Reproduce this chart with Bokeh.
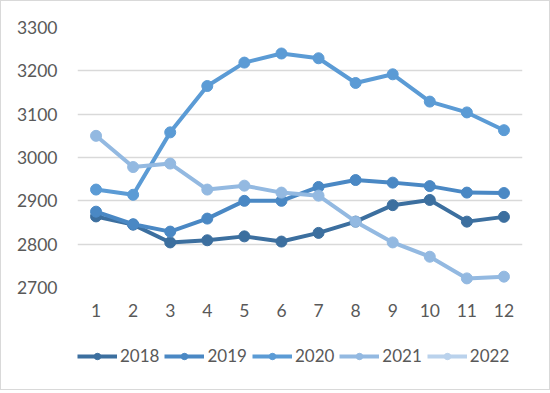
from bokeh.plotting import figure
from bokeh.layouts import column
from bokeh.models import Range1d, FixedTicker, Legend, LegendItem, ColumnDataSource
from bokeh.embed import file_html
from bokeh.resources import INLINE

months = [1, 2, 3, 4, 5, 6, 7, 8, 9, 10, 11, 12]
y2018 = [2864, 2845, 2804, 2809, 2818, 2806, 2826, 2852, 2890, 2902, 2852, 2863]
y2019 = [2875, 2846, 2829, 2859, 2900, 2900, 2932, 2948, 2942, 2934, 2919, 2918]
y2020 = [2926, 2914, 3058, 3165, 3219, 3240, 3229, 3172, 3192, 3129, 3104, 3063]
y2021 = [3050, 2978, 2986, 2926, 2935, 2919, 2912, 2852, 2804, 2771, 2721, 2725]
y2022 = []  # no 2022 values are drawn in the chart (legend entry only)
series_names = ["2018", "2019", "2020", "2021", "2022"]
series_values = [y2018, y2019, y2020, y2021, y2022]
colors = ["#3C6F9F", "#4A88C4", "#5B9BD5", "#93B9E1", "#BAD2EC"]
y_ticks = [2700, 2800, 2900, 3000, 3100, 3200, 3300]

FONT = "Lato"
p = figure(width=548, height=330, output_backend="svg", toolbar_location=None,
           x_range=Range1d(0.5, 12.5), y_range=Range1d(2700, 3300),
           min_border_left=76, min_border_right=27, min_border_top=26,
           min_border_bottom=44)
p.outline_line_color = None
p.background_fill_color = "white"
p.border_fill_color = "white"

p.xaxis.ticker = FixedTicker(ticks=months)
p.yaxis.ticker = FixedTicker(ticks=y_ticks)
for ax in (p.xaxis[0], p.yaxis[0]):
    ax.axis_line_color = None
    ax.major_tick_line_color = None
    ax.minor_tick_line_color = None
    ax.major_tick_out = 0
    ax.major_tick_in = 0
    ax.major_label_text_font = FONT
    ax.major_label_text_font_size = "17.5px"
    ax.major_label_text_color = "#595959"
p.xaxis.major_label_standoff = 16
p.yaxis.major_label_standoff = 20
p.xgrid.grid_line_color = None
p.ygrid.grid_line_color = "#D9D9D9"
p.ygrid.grid_line_width = 1.5

# legend strip below the chart
p2 = figure(width=548, height=58, output_backend="svg", toolbar_location=None,
            x_range=Range1d(0, 1), y_range=Range1d(0, 1),
            x_axis_type=None, y_axis_type=None,
            min_border_left=0, min_border_right=0, min_border_top=0,
            min_border_bottom=0)
p2.outline_line_color = None
p2.xgrid.grid_line_color = None
p2.ygrid.grid_line_color = None
p2.background_fill_color = "white"
p2.border_fill_color = "white"

nan = float("nan")
items = []
for name, vals, c in zip(series_names, series_values, colors):
    if vals:
        data = dict(x=months[:len(vals)], y=vals)
    else:
        data = dict(x=[nan], y=[nan])  # empty series: legend entry only
    src = ColumnDataSource(data)
    p.line("x", "y", source=src, line_color=c, line_width=4)
    p.scatter("x", "y", source=src, size=11, fill_color=c, line_color=c)
    # legend swatches (data lies outside this strip's ranges, so nothing is drawn)
    l1 = p2.line("x", "y", source=src, line_color=c, line_width=4)
    l2 = p2.scatter("x", "y", source=src, size=11, fill_color=c, line_color=c)
    items.append(LegendItem(label=name, renderers=[l1, l2]))

legend = Legend(items=items, orientation="horizontal", location=(0, 23),
                border_line_color=None, background_fill_alpha=0,
                label_text_font=FONT, label_text_font_size="17px",
                label_text_color="#595959", glyph_width=40, glyph_height=16,
                label_standoff=3, spacing=5, padding=4, margin=0)
p2.add_layout(legend)

layout = column(p, p2, spacing=0)
layout.styles = {"border": "1px solid #D9D9D9"}
open("out.html", "w").write(file_html(layout, INLINE))
